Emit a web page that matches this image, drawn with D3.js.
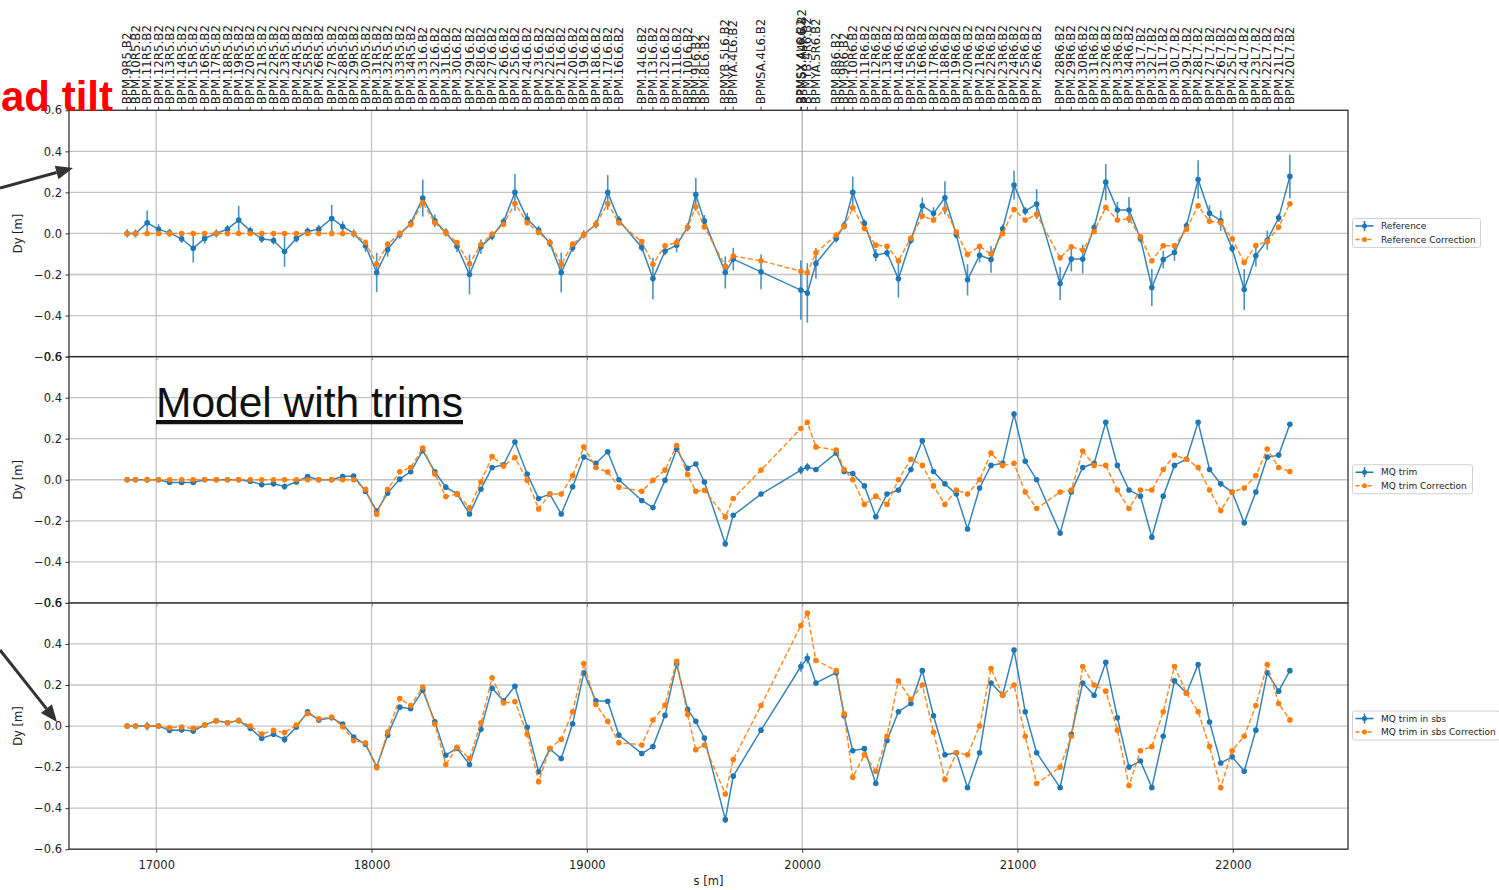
<!DOCTYPE html>
<html>
<head>
<meta charset="utf-8">
<script src="https://cdn.jsdelivr.net/npm/d3@7"></script>
<style>
  body { margin: 0; background: #fff; }
  svg { display: block; }
</style>
</head>
<body>
<svg id="chart" width="1499" height="890"></svg>
<script>
// BPM names along the top axis and their longitudinal positions s [m]
const bpmNames = [
  "BPM.9R5.B2","BPM.10R5.B2","BPM.11R5.B2","BPM.12R5.B2","BPM.13R5.B2","BPM.14R5.B2","BPM.15R5.B2","BPM.16R5.B2",
  "BPM.17R5.B2","BPM.18R5.B2","BPM.19R5.B2","BPM.20R5.B2","BPM.21R5.B2","BPM.22R5.B2","BPM.23R5.B2","BPM.24R5.B2",
  "BPM.25R5.B2","BPM.26R5.B2","BPM.27R5.B2","BPM.28R5.B2","BPM.29R5.B2","BPM.30R5.B2","BPM.31R5.B2","BPM.32R5.B2",
  "BPM.33R5.B2","BPM.34R5.B2","BPM.33L6.B2","BPM.32L6.B2","BPM.31L6.B2","BPM.30L6.B2","BPM.29L6.B2","BPM.28L6.B2",
  "BPM.27L6.B2","BPM.26L6.B2","BPM.25L6.B2","BPM.24L6.B2","BPM.23L6.B2","BPM.22L6.B2","BPM.21L6.B2","BPM.20L6.B2",
  "BPM.19L6.B2","BPM.18L6.B2","BPM.17L6.B2","BPM.16L6.B2","BPM.14L6.B2","BPM.13L6.B2","BPM.12L6.B2","BPM.11L6.B2",
  "BPM.10L6.B2","BPM.9L6.B2","BPM.8L6.B2","BPMYB.5L6.B2","BPMYA.4L6.B2","BPMSA.4L6.B2","BPMSX.4L6.B2","BPMSX.A4R6.B2",
  "BPMYB.4R6.B2","BPMYA.5R6.B2","BPM.8R6.B2","BPM.9R6.B2","BPM.10R6.B2","BPM.11R6.B2","BPM.12R6.B2","BPM.13R6.B2",
  "BPM.14R6.B2","BPM.15R6.B2","BPM.16R6.B2","BPM.17R6.B2","BPM.18R6.B2","BPM.19R6.B2","BPM.20R6.B2","BPM.21R6.B2",
  "BPM.22R6.B2","BPM.23R6.B2","BPM.24R6.B2","BPM.25R6.B2","BPM.26R6.B2","BPM.28R6.B2","BPM.29R6.B2","BPM.30R6.B2",
  "BPM.31R6.B2","BPM.32R6.B2","BPM.33R6.B2","BPM.34R6.B2","BPM.33L7.B2","BPM.32L7.B2","BPM.31L7.B2","BPM.30L7.B2",
  "BPM.29L7.B2","BPM.28L7.B2","BPM.27L7.B2","BPM.26L7.B2","BPM.25L7.B2","BPM.24L7.B2","BPM.23L7.B2","BPM.22L7.B2",
  "BPM.21L7.B2","BPM.20L7.B2"
];
const bpmS = [
  16865,16904,16958,17011,17062,17118,17172,17225,17279,17331,17383,17437,17490,17545,17596,17651,
  17703,17755,17815,17866,17917,17972,18024,18075,18131,18182,18238,18294,18345,18397,18455,18508,
  18560,18613,18666,18723,18776,18828,18881,18934,18986,19042,19097,19149,19255,19307,19363,19417,
  19468,19506,19546,19643,19680,19809,19994,19997,20024,20064,20158,20195,20235,20289,20342,20394,
  20447,20505,20558,20610,20663,20716,20768,20824,20877,20931,20984,21036,21089,21198,21250,21303,
  21356,21410,21464,21518,21571,21624,21677,21729,21785,21839,21892,21944,21997,22053,22107,22160,
  22213,22265
];

// Panel 1: reference measurement, its error and the reference correction
const refMeas = [
  0.0,0.0,0.052,0.02,0.003,-0.026,-0.072,-0.024,0.0,0.021,0.065,0.013,-0.026,-0.034,-0.088,-0.024,
  0.01,0.021,0.073,0.034,0.0,-0.06,-0.19,-0.078,-0.005,0.049,0.172,0.062,0.005,-0.062,-0.2,-0.065,
  -0.013,0.057,0.2,0.07,0.016,-0.046,-0.19,-0.07,-0.005,0.044,0.2,0.065,-0.068,-0.22,-0.086,-0.057,
  0.03,0.19,0.06,-0.19,-0.125,-0.187,-0.276,null,-0.29,-0.146,-0.024,0.039,0.2,0.049,-0.106,-0.094,
  -0.221,-0.033,0.135,0.098,0.174,-0.006,-0.226,-0.106,-0.127,0.023,0.236,0.109,0.143,-0.244,-0.125,-0.125,
  0.029,0.25,0.114,0.114,-0.024,-0.263,-0.127,-0.093,0.037,0.263,0.098,0.062,-0.073,-0.273,-0.109,-0.033,
  0.076,0.278
];
const refErr = [
  0.02,0.02,0.06,0.025,0.02,0.02,0.07,0.025,0.02,0.02,0.07,0.02,0.02,0.02,0.075,0.02,
  0.02,0.02,0.066,0.025,0.02,0.03,0.096,0.035,0.02,0.02,0.09,0.03,0.02,0.03,0.097,0.035,
  0.02,0.02,0.09,0.03,0.02,0.02,0.097,0.02,0.02,0.02,0.085,0.02,0.02,0.1,0.02,0.035,
  0.02,0.08,0.03,0.078,0.055,0.085,0.145,null,0.145,0.075,0.02,0.02,0.077,0.02,0.03,0.02,
  0.092,0.02,0.04,0.03,0.08,0.02,0.076,0.035,0.065,0.02,0.07,0.02,0.073,0.08,0.06,0.07,
  0.02,0.088,0.04,0.063,0.02,0.09,0.043,0.04,0.02,0.094,0.04,0.05,0.02,0.1,0.053,0.047,
  0.02,0.106
];
const refCorr = [
  0,0,0,0,0,0,0,0,0,0,0,0,0,0,0,0,
  0,0,0,0,0,-0.044,-0.15,-0.052,0.0,0.044,0.15,0.052,0.003,-0.044,-0.148,-0.054,
  -0.003,0.044,0.146,0.052,0.005,-0.044,-0.15,-0.052,-0.006,0.044,0.146,0.052,-0.04,-0.15,-0.06,-0.044,
  0.03,0.13,0.032,-0.16,-0.11,-0.133,-0.184,null,-0.192,-0.094,-0.008,0.034,0.125,0.024,-0.057,-0.062,
  -0.133,-0.023,0.085,0.065,0.119,0.007,-0.102,-0.063,-0.1,0.0,0.117,0.065,0.093,-0.119,-0.065,-0.081,
  0.01,0.127,0.065,0.072,-0.016,-0.133,-0.06,-0.06,0.021,0.135,0.059,0.052,-0.026,-0.141,-0.059,-0.039,
  0.031,0.145
];

// Panel 2: model with MQ trims
const trimMeas = [
  0,0,0,0,-0.013,-0.013,-0.013,0,0,0,0,-0.007,-0.024,-0.02,-0.033,-0.011,
  0.015,0,0,0.016,0.018,-0.056,-0.153,-0.065,0.003,0.039,0.142,0.039,-0.036,-0.069,-0.167,-0.046,
  0.06,0.073,0.184,0.028,-0.091,-0.07,-0.167,-0.034,0.111,0.08,0.136,0.0,-0.101,-0.136,-0.003,0.149,
  0.056,0.077,-0.011,-0.312,-0.173,-0.07,0.047,null,0.062,0.05,0.13,0.04,0.03,-0.03,-0.18,-0.07,
  -0.05,0.05,0.19,0.04,-0.02,-0.07,-0.24,-0.04,0.07,0.08,0.32,0.09,0.0,-0.26,-0.06,0.06,
  0.08,0.28,0.07,-0.05,-0.08,-0.28,-0.08,0.07,0.1,0.28,0.05,-0.02,-0.06,-0.21,-0.06,0.11,
  0.12,0.27
];
const trimErr = [
  0.005,0.005,0.015,0.005,0.008,0.008,0.012,0.005,0.005,0.005,0.012,0.005,0.008,0.008,0.015,0.008,
  0.008,0.005,0.005,0.01,0.01,0.008,0.012,0.01,0.008,0.008,0.008,0.008,0.008,0.008,0.008,0.008,
  0.008,0.008,0.008,0.008,0.012,0.008,0.008,0.008,0.008,0.008,0.008,0.008,0.008,0.008,0.008,0.008,
  0.008,0.008,0.008,0.015,0.01,0.008,0.02,null,0.02,0.01,0.008,0.008,0.008,0.008,0.008,0.008,
  0.008,0.008,0.008,0.008,0.008,0.008,0.008,0.008,0.008,0.008,0.015,0.008,0.008,0.008,0.008,0.008,
  0.008,0.008,0.008,0.008,0.008,0.012,0.008,0.008,0.008,0.008,0.008,0.008,0.008,0.008,0.008,0.008,
  0.008,0.008
];
const trimCorr = [
  0,0,0,0,0,0,0,0,0,0,0,0,0,0,0,0,
  0,0,0,0,0,-0.047,-0.168,-0.046,0.039,0.06,0.155,0.028,-0.082,-0.069,-0.137,-0.011,
  0.113,0.067,0.108,-0.003,-0.142,-0.07,-0.07,0.021,0.16,0.06,0.038,-0.036,-0.056,-0.003,0.047,0.167,
  0.026,-0.056,-0.051,-0.181,-0.091,0.047,0.25,null,0.28,0.16,0.145,0.05,0.0,-0.12,-0.08,-0.12,
  0.0,0.1,0.07,-0.03,-0.12,-0.05,-0.07,0.0,0.13,0.07,0.08,-0.06,-0.14,-0.06,-0.05,0.14,
  0.07,0.07,-0.05,-0.14,-0.05,-0.05,0.05,0.12,0.1,0.06,-0.05,-0.15,-0.06,-0.04,0.02,0.15,
  0.06,0.04
];

// Panel 3: MQ trims applied in segment-by-segment
const sbsMeas = [
  0,0,0,0,-0.021,-0.019,-0.024,0.005,0.026,0.016,0.027,-0.011,-0.06,-0.04,-0.065,-0.005,
  0.069,0.03,0.04,0.01,-0.053,-0.089,-0.198,-0.045,0.092,0.084,0.174,0.021,-0.142,-0.108,-0.187,-0.016,
  0.184,0.123,0.194,-0.006,-0.223,-0.111,-0.158,0.011,0.26,0.123,0.121,-0.044,-0.134,-0.1,0.052,0.302,
  0.081,0.023,-0.058,-0.456,-0.244,-0.02,0.29,null,0.33,0.21,0.26,0.05,-0.12,-0.11,-0.28,-0.07,
  0.07,0.11,0.27,0.05,-0.14,-0.13,-0.3,-0.13,0.21,0.15,0.37,0.07,-0.13,-0.3,-0.04,0.21,
  0.15,0.31,0.04,-0.2,-0.17,-0.3,-0.05,0.22,0.16,0.3,0.02,-0.18,-0.15,-0.22,-0.02,0.26,
  0.17,0.27
];
const sbsErr = [
  0.005,0.005,0.02,0.005,0.008,0.008,0.015,0.005,0.005,0.005,0.015,0.005,0.008,0.008,0.018,0.008,
  0.008,0.008,0.008,0.008,0.008,0.008,0.012,0.01,0.008,0.008,0.008,0.008,0.008,0.008,0.008,0.008,
  0.008,0.008,0.008,0.008,0.012,0.008,0.008,0.008,0.008,0.008,0.008,0.008,0.008,0.008,0.008,0.008,
  0.008,0.008,0.008,0.015,0.012,0.008,0.025,null,0.025,0.012,0.008,0.008,0.008,0.008,0.01,0.008,
  0.008,0.008,0.008,0.008,0.008,0.008,0.008,0.008,0.008,0.008,0.012,0.008,0.008,0.008,0.008,0.008,
  0.008,0.008,0.008,0.008,0.008,0.01,0.008,0.008,0.008,0.008,0.008,0.008,0.008,0.008,0.008,0.008,
  0.008,0.008
];
const sbsCorr = [
  0,0,0,0,-0.008,-0.005,-0.011,0.005,0.026,0.016,0.026,0,-0.039,-0.021,-0.032,0.005,
  0.061,0.035,0.044,-0.003,-0.071,-0.081,-0.203,-0.029,0.134,0.1,0.19,0.01,-0.187,-0.103,-0.158,0.016,
  0.235,0.113,0.119,-0.04,-0.271,-0.108,-0.065,0.069,0.305,0.105,0.023,-0.081,-0.092,0.029,0.102,0.316,
  0.056,-0.115,-0.092,-0.331,-0.163,0.1,0.49,null,0.55,0.32,0.27,0.06,-0.25,-0.14,-0.22,-0.05,
  0.22,0.13,0.2,-0.03,-0.26,-0.13,-0.14,0.0,0.28,0.15,0.2,-0.05,-0.28,-0.2,-0.05,0.29,
  0.2,0.17,-0.02,-0.29,-0.12,-0.1,0.07,0.29,0.16,0.07,-0.1,-0.3,-0.12,-0.05,0.1,0.3,
  0.11,0.03
];

const seriesLabels = [
  ["Reference", "Reference Correction"],
  ["MQ trim", "MQ trim Correction"],
  ["MQ trim in sbs", "MQ trim in sbs Correction"]
];
const xTicks = [17000, 18000, 19000, 20000, 21000, 22000];
const yTicks = [-0.6, -0.4, -0.2, 0.0, 0.2, 0.4, 0.6];

const panels = [
  { meas: refMeas, err: refErr, corr: refCorr, labels: seriesLabels[0] },
  { meas: trimMeas, err: trimErr, corr: trimCorr, labels: seriesLabels[1] },
  { meas: sbsMeas, err: sbsErr, corr: sbsCorr, labels: seriesLabels[2] }
];

const svg = d3.select("#chart");
const FONT = "'DejaVu Sans', sans-serif";
const BLUE = "#1f77b4", ORANGE = "#ff7f0e";

const left = 69, right = 1348, top0 = 110.3, panelH = 246.3;
const x = d3.scaleLinear().domain([16595, 22535]).range([left, right]);

panels.forEach((p, i) => {
  const top = top0 + i * panelH;
  const y = d3.scaleLinear().domain([-0.6, 0.6]).range([top + panelH, top]);
  const g = svg.append("g");

  // grid
  g.append("g").selectAll("line").data(yTicks).join("line")
    .attr("x1", left).attr("x2", right)
    .attr("y1", d => y(d)).attr("y2", d => y(d))
    .attr("stroke", "#c4c4c4").attr("stroke-width", 1.3);
  g.append("g").selectAll("line").data(xTicks).join("line")
    .attr("x1", d => x(d)).attr("x2", d => x(d))
    .attr("y1", top).attr("y2", top + panelH)
    .attr("stroke", d => (i === 0 && d === 20000) ? "#9a9a9a" : "#c4c4c4")
    .attr("stroke-width", d => (i === 0 && d === 20000) ? 1 : 1.3);

  // y axis
  const ya = d3.axisLeft(y).tickValues(yTicks).tickSize(3.5).tickPadding(3.5)
    .tickFormat(d => d3.format(".1f")(d).replace("-", "\u2212"));
  const yg = g.append("g").attr("transform", `translate(${left},0)`).call(ya);
  yg.select(".domain").remove();
  yg.selectAll("line").attr("stroke", "#333");
  yg.selectAll("text").attr("font-family", FONT).attr("font-size", 11.5).attr("fill", "#222");

  // bottom ticks (labels only on the last panel)
  const xa = d3.axisBottom(x).tickValues(xTicks).tickSize(3.5).tickPadding(8)
    .tickFormat(i === 2 ? d3.format("d") : "");
  const xg = g.append("g").attr("transform", `translate(0,${top + panelH})`).call(xa);
  xg.select(".domain").remove();
  xg.selectAll("line").attr("stroke", "#333");
  xg.selectAll("text").attr("font-family", FONT).attr("font-size", 11.5).attr("fill", "#222");

  // y label
  g.append("text")
    .attr("transform", `translate(22,${top + panelH / 2}) rotate(-90)`)
    .attr("text-anchor", "middle")
    .attr("font-family", FONT).attr("font-size", 11.5).attr("fill", "#222")
    .text("Dy [m]");

  // data points
  const pts = bpmS.map((s, k) => ({ s, m: p.meas[k], e: p.err[k], c: p.corr[k] }))
    .filter(d => d.m !== null);

  const clip = "clip" + i;
  svg.append("clipPath").attr("id", clip).append("rect")
    .attr("x", left).attr("y", top).attr("width", right - left).attr("height", panelH);
  const dg = g.append("g").attr("clip-path", `url(#${clip})`);

  // measurement with error bars
  dg.append("g").selectAll("line").data(pts).join("line")
    .attr("x1", d => x(d.s)).attr("x2", d => x(d.s))
    .attr("y1", d => y(d.m - d.e)).attr("y2", d => y(d.m + d.e))
    .attr("stroke", BLUE).attr("stroke-width", 1.6).attr("opacity", 0.8);
  dg.append("path").datum(pts)
    .attr("d", d3.line().x(d => x(d.s)).y(d => y(d.m)))
    .attr("fill", "none").attr("stroke", BLUE).attr("stroke-width", 1.5).attr("opacity", 0.9);
  dg.append("g").selectAll("circle").data(pts).join("circle")
    .attr("cx", d => x(d.s)).attr("cy", d => y(d.m)).attr("r", 2.8).attr("fill", BLUE);

  // correction
  dg.append("path").datum(pts)
    .attr("d", d3.line().x(d => x(d.s)).y(d => y(d.c)))
    .attr("fill", "none").attr("stroke", ORANGE).attr("stroke-width", 1.5)
    .attr("stroke-dasharray", "5,2.5").attr("opacity", 0.9);
  dg.append("g").selectAll("circle").data(pts).join("circle")
    .attr("cx", d => x(d.s)).attr("cy", d => y(d.c)).attr("r", 2.8).attr("fill", ORANGE);

  // frame
  g.append("rect").attr("x", left).attr("y", top).attr("width", right - left).attr("height", panelH)
    .attr("fill", "none").attr("stroke", "#333").attr("stroke-width", 1.3);

  // legend
  const ly = top + panelH / 2 - 15;
  const lg = g.append("g").attr("transform", `translate(1352.5,${ly})`);
  lg.append("rect").attr("width", 128 + (i === 2 ? 19 : i === 1 ? -8 : 0)).attr("height", 29)
    .attr("rx", 2).attr("fill", "#fff").attr("fill-opacity", 0.8)
    .attr("stroke", "#d0d0d0").attr("stroke-width", 1);
  [0, 1].forEach(r => {
    const yy = 7.5 + r * 13.5;
    const col = r === 0 ? BLUE : ORANGE;
    lg.append("line").attr("x1", 3).attr("x2", 21).attr("y1", yy).attr("y2", yy)
      .attr("stroke", col).attr("stroke-width", 1.5).attr("stroke-dasharray", r ? "4,2" : null);
    if (r === 0) lg.append("line").attr("x1", 12).attr("x2", 12).attr("y1", yy - 5).attr("y2", yy + 5)
      .attr("stroke", col).attr("stroke-width", 1.5);
    lg.append("circle").attr("cx", 12).attr("cy", yy).attr("r", 2.5).attr("fill", col);
    lg.append("text").attr("x", 28.5).attr("y", yy).attr("dy", "0.35em")
      .attr("font-family", FONT).attr("font-size", 9).attr("fill", "#222")
      .text(p.labels[r]);
  });
});

// x label
svg.append("text").attr("x", (left + right) / 2).attr("y", 885)
  .attr("text-anchor", "middle").attr("font-family", FONT).attr("font-size", 11.5).attr("fill", "#222")
  .text("s [m]");

// top axis with BPM names
const tg = svg.append("g");
tg.selectAll("line").data(bpmS).join("line")
  .attr("x1", d => x(d)).attr("x2", d => x(d)).attr("y1", top0).attr("y2", top0 - 3.5)
  .attr("stroke", "#333").attr("stroke-width", 1);
tg.selectAll("text").data(bpmNames).join("text")
  .attr("transform", (d, k) => `translate(${x(bpmS[k])},${top0 - 6}) rotate(-90)`)
  .attr("dy", "0.35em")
  .attr("font-family", FONT).attr("font-size", 11.8).attr("fill", "#222")
  .text(d => d);

// annotations
svg.append("text").attr("x", 1).attr("y", 111)
  .attr("font-family", "'Liberation Sans', Arial, sans-serif").attr("font-weight", "bold")
  .attr("font-size", 42).attr("fill", "#ff0000").text("ad tilt");

svg.append("text").attr("x", 156).attr("y", 417)
  .attr("font-family", "'Liberation Sans', Arial, sans-serif").attr("font-size", 42.5)
  .attr("fill", "#111").attr("text-decoration", "underline").text("Model with trims");

function arrow(x0, y0, x1, y1) {
  const dx = x1 - x0, dy = y1 - y0, L = Math.hypot(dx, dy);
  const ux = dx / L, uy = dy / L, hl = 17, hw = 7;
  const bx = x1 - ux * hl, by = y1 - uy * hl;
  svg.append("line").attr("x1", x0).attr("y1", y0).attr("x2", bx).attr("y2", by)
    .attr("stroke", "#333").attr("stroke-width", 3);
  svg.append("polygon")
    .attr("points", [[x1, y1], [bx - uy * hw, by + ux * hw], [bx + uy * hw, by - ux * hw]].map(q => q.join(",")).join(" "))
    .attr("fill", "#333");
}
arrow(0, 188, 73, 168);
arrow(0, 650, 57, 722);
</script>
</body>
</html>
